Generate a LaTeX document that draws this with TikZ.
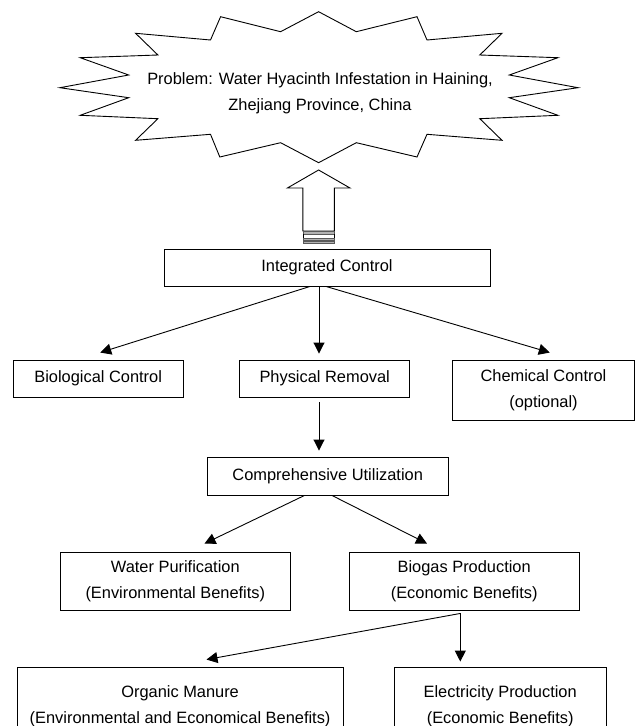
\documentclass[tikz,border=0pt]{standalone}
\usepackage{fontspec}
\setmainfont{Liberation Sans}
\usetikzlibrary{positioning,arrows.meta,calc}

\begin{document}
\begin{tikzpicture}[
    x=1pt, y=-1pt,
    line width=0.9pt,
    txt/.style={align=center, inner sep=0pt, font=\fontsize{16.4}{26}\selectfont},
    box/.style={txt, rectangle, draw, line width=0.9pt},
    link/.style={-{Triangle[length=11pt,width=11pt]}, line width=0.9pt},
    stripe/.style={draw=gray!70!black, fill=gray!60, line width=0.5pt}
]
  \useasboundingbox (0,0) rectangle (635,726);

  % problem burst
  \draw (318.6,11.7) -- (356.3,31.7) -- (417,16.7) -- (427,40) -- (502,33.3) -- (479.8,55)
    -- (557.9,57.7) -- (509.3,75) -- (578,87.7) -- (509.3,97.7) -- (557.9,115.3) -- (479.8,118.7)
    -- (502,140.3) -- (427,134.3) -- (417,157) -- (356.3,142.7) -- (318.6,162.7) -- (280.6,142.7)
    -- (219.8,157) -- (210.5,134.3) -- (135.6,140.3) -- (157.9,118.7) -- (80.2,115.3) -- (128.7,97.7)
    -- (59.9,87.7) -- (128.7,75) -- (80.2,57.7) -- (157.9,55) -- (135.6,33.3) -- (210.5,40)
    -- (220.6,16.7) -- (280.6,31.7) -- cycle;
  \node[txt] (problem) at (320,93) {Problem: Water Hyacinth Infestation in Haining,\\Zhejiang Province, China};

  % block arrow with striped tail
  \draw (302.8,188) -- (287.4,188) -- (318.6,170) -- (350,188) -- (334.4,188)
    -- (334.4,231) -- (302.8,231) -- cycle;
  \filldraw[stripe] (302.8,231) rectangle (334.4,234);
  \draw[line width=0.5pt] (302.8,234) -- (302.8,238) (334.4,234) -- (334.4,238);
  \filldraw[stripe] (302.8,238) rectangle (334.4,240.3);
  \filldraw[stripe] (302.8,241.3) rectangle (334.4,243.3);

  % boxes
  \node[box, minimum width=326pt, minimum height=37pt] (ic) at (327,267.5) {Integrated Control};
  \node[box, minimum width=169.6pt, minimum height=37pt] (bio) at (98.2,378.5) {Biological Control};
  \node[box, minimum width=170pt, minimum height=37pt] (phys) at (324.7,378.5) {Physical Removal};
  \node[box, minimum width=182pt, minimum height=60pt] (chem) at (543.5,390) {Chemical Control\\(optional)};
  \node[box, minimum width=241pt, minimum height=38pt] (comp) at (327.7,476) {Comprehensive Utilization};
  \node[box, minimum width=230.7pt, minimum height=58pt] (water) at (175.3,581) {Water Purification\\(Environmental Benefits)};
  \node[box, minimum width=229.6pt, minimum height=58pt] (biogas) at (464.2,581) {Biogas Production\\(Economic Benefits)};
  \node[box, minimum width=326.3pt, minimum height=78pt] (manure) at (180.1,706) {Organic Manure\\(Environmental and Economical Benefits)};
  \node[box, minimum width=212.5pt, minimum height=78pt] (power) at (500.2,706) {Electricity Production\\(Economic Benefits)};

  % links
  \draw[link] ([xshift=-17pt]ic.south) -- ([xshift=2pt,yshift=7pt]bio.north);
  \draw[link] ([xshift=-8pt]ic.south) -- ([xshift=-5.7pt,yshift=6pt]phys.north);
  \draw[link] ([xshift=-1pt]ic.south) -- ([xshift=6.3pt,yshift=7pt]chem.north);
  \draw[link] ([xshift=-5.7pt,yshift=-5pt]phys.south) -- ([xshift=-8.7pt,yshift=6pt]comp.north);
  \draw[link] ([xshift=-23.2pt]comp.south) -- ([xshift=29.2pt,yshift=8pt]water.north);
  \draw[link] ([xshift=4.3pt]comp.south) -- ([xshift=-37.2pt,yshift=8pt]biogas.north);
  \draw[link] ([xshift=-3.9pt,yshift=-3pt]biogas.south) -- ([xshift=-39.9pt,yshift=5pt]power.north);
  \draw[link] ([xshift=-3.9pt,yshift=-3pt]biogas.south) -- ([xshift=26.4pt,yshift=7pt]manure.north);
\end{tikzpicture}
\end{document}
